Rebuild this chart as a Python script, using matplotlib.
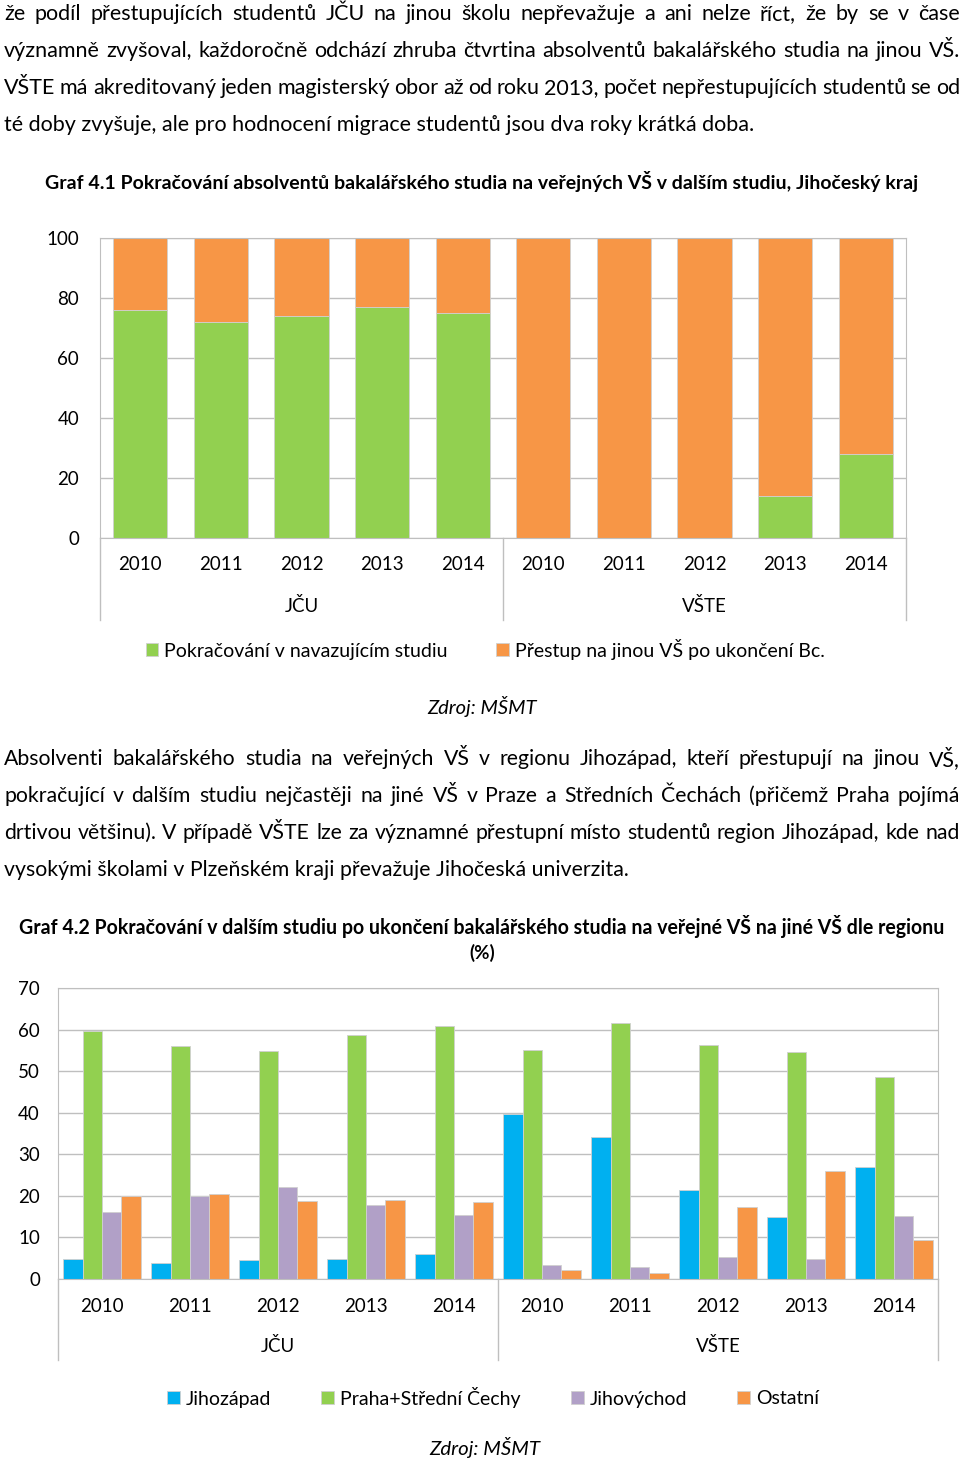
import matplotlib
matplotlib.use('Agg')
import matplotlib.pyplot as plt
import numpy as np

plt.rcParams['font.family'] = ['Lato', 'DejaVu Sans']

W, H = 960, 1462

para1 = [
    "že podíl přestupujících studentů JČU na jinou školu nepřevažuje a ani nelze říct, že by se v čase",
    "významně zvyšoval, každoročně odchází zhruba čtvrtina absolventů bakalářského studia na jinou VŠ.",
    "VŠTE má akreditovaný jeden magisterský obor až od roku 2013, počet nepřestupujících studentů se od",
    "té doby zvyšuje, ale pro hodnocení migrace studentů jsou dva roky krátká doba.",
]
para2 = [
    "Absolventi bakalářského studia na veřejných VŠ v regionu Jihozápad, kteří přestupují na jinou VŠ,",
    "pokračující v dalším studiu nejčastěji na jiné VŠ v Praze a Středních Čechách (přičemž Praha pojímá",
    "drtivou většinu). V případě VŠTE lze za významné přestupní místo studentů region Jihozápad, kde nad",
    "vysokými školami v Plzeňském kraji převažuje Jihočeská univerzita.",
]
title1 = "Graf 4.1 Pokračování absolventů bakalářského studia na veřejných VŠ v dalším studiu, Jihočeský kraj"
title2 = "Graf 4.2 Pokračování v dalším studiu po ukončení bakalářského studia na veřejné VŠ na jiné VŠ dle regionu"
source = "Zdroj: MŠMT"

years = ['2010', '2011', '2012', '2013', '2014'] * 2
groups = ['JČU', 'VŠTE']

# graf 4.1 (%)
continuing = [76, 72, 74, 77, 75, 0, 0, 0, 14, 28]
transfer = [24, 28, 26, 23, 25, 100, 100, 100, 86, 72]

# graf 4.2 (%)
jihozapad = [4.8, 3.8, 4.6, 4.9, 5.9, 39.8, 34.2, 21.5, 15.0, 27.0]
praha = [59.6, 56.1, 54.8, 58.6, 60.8, 55.0, 61.7, 56.4, 54.5, 48.5]
jihovychod = [16.1, 20.0, 22.2, 17.8, 15.3, 3.4, 2.9, 5.4, 4.9, 15.2]
ostatni = [19.9, 20.5, 18.8, 19.1, 18.5, 2.2, 1.4, 17.2, 26.0, 9.5]

GRID = '#BFBFBF'
GREEN, ORANGE, BLUE, PURPLE = '#92D050', '#F79646', '#00B0F0', '#B1A0C7'

fig = plt.figure(figsize=(9.6, 14.62), dpi=100)
r = fig.canvas.get_renderer()


def fx(x):
    return x / W


def fy(y):
    return 1 - y / H


def text_width(t):
    return t.get_window_extent(r).width


def fit_text(s, x0, x1, y, size=14, **kw):
    t = fig.text(fx((x0 + x1) / 2), fy(y), s, ha='center', va='center', fontsize=size, **kw)
    t.set_fontsize(size * (x1 - x0) / text_width(t))
    return t


def paragraph(lines, y0, step, x0, x1, last_x1):
    # font size taken from the last (not stretched) line, other lines justified
    probe = fig.text(0, 0, lines[-1], fontsize=14)
    size = 14 * (last_x1 - x0) / text_width(probe)
    probe.remove()
    for i, line in enumerate(lines):
        y = fy(y0 + i * step)
        if i == len(lines) - 1:
            fig.text(fx(x0), y, line, fontsize=size, va='center')
            continue
        words = line.split()
        ts = [fig.text(0, y, w, fontsize=size, va='center') for w in words]
        widths = [text_width(t) for t in ts]
        gap = (x1 - x0 - sum(widths)) / (len(words) - 1)
        x = x0
        for t, w in zip(ts, widths):
            t.set_x(fx(x))
            x += w + gap


def categories(ax, y_year, y_group, y_end):
    tr = ax.get_xaxis_transform()
    for i, yr in enumerate(years):
        ax.text(i, y_year, yr, transform=tr, ha='center', va='center', fontsize=13.5)
    for g, name in enumerate(groups):
        ax.text(2 + 5 * g, y_group, name, transform=tr, ha='center', va='center', fontsize=13.5)
    for xs in (-0.5, 4.5, 9.5):
        ax.plot([xs, xs], [0, y_end], transform=tr, color=GRID, lw=1, clip_on=False)


def style(ax):
    ax.set_xlim(-0.5, 9.5)
    ax.set_xticks([])
    ax.grid(axis='y', color=GRID, lw=1, zorder=0)
    ax.set_axisbelow(True)
    ax.tick_params(axis='y', length=0, labelsize=13.5)
    for s in ax.spines.values():
        s.set_color(GRID)


paragraph(para1, 14, 37, 4, 960, 755)
fit_text(title1, 44, 920, 182, fontweight='bold')

# --- Graf 4.1
ax1 = fig.add_axes([fx(100), fy(538), (906 - 100) / W, 300 / H])
x = np.arange(len(years))
b1 = ax1.bar(x, continuing, 0.67, color=GREEN, edgecolor='#D0D0D0', lw=0.6,
             label='Pokračování v navazujícím studiu')
b2 = ax1.bar(x, transfer, 0.67, bottom=continuing, color=ORANGE, edgecolor='#D0D0D0', lw=0.6,
             label='Přestup na jinou VŠ po ukončení Bc.')
style(ax1)
ax1.set_ylim(0, 100)
ax1.set_yticks(range(0, 101, 20))
ax1.tick_params(axis='y', pad=15)
categories(ax1, -0.09, -0.227, -0.273)
fig.legend(handles=[b1, b2], loc='center', bbox_to_anchor=(fx(485), fy(649)), ncol=2,
           frameon=False, fontsize=14, handlelength=0.65, handleheight=0.65,
           handletextpad=0.3, columnspacing=2.5)
fit_text(source, 427, 537, 707, style='italic')

paragraph(para2, 759, 37, 4, 960, 631)
fit_text(title2, 17, 947, 927, fontweight='bold')
fig.text(fx(482), fy(953), '(%)', ha='center', va='center', fontsize=13.5, fontweight='bold')

# --- Graf 4.2
ax2 = fig.add_axes([fx(58), fy(1279), (938 - 58) / W, 291 / H])
w = 0.22
series = [('Jihozápad', jihozapad, BLUE), ('Praha+Střední Čechy', praha, GREEN),
          ('Jihovýchod', jihovychod, PURPLE), ('Ostatní', ostatni, ORANGE)]
handles = []
for k, (name, vals, col) in enumerate(series):
    handles.append(ax2.bar(x + (k - 1.5) * w, vals, w, color=col, edgecolor='#D0D0D0',
                           lw=0.6, label=name))
style(ax2)
ax2.set_ylim(0, 70)
ax2.set_yticks(range(0, 71, 10))
ax2.tick_params(axis='y', pad=13)
categories(ax2, -0.093, -0.23, -0.278)
fig.legend(handles=handles, loc='center', bbox_to_anchor=(fx(493), fy(1397)), ncol=4,
           frameon=False, fontsize=14, handlelength=0.65, handleheight=0.65,
           handletextpad=0.3, columnspacing=2.6)
fit_text(source, 429, 540, 1447, style='italic')

fig.savefig('out.png', dpi=100)
